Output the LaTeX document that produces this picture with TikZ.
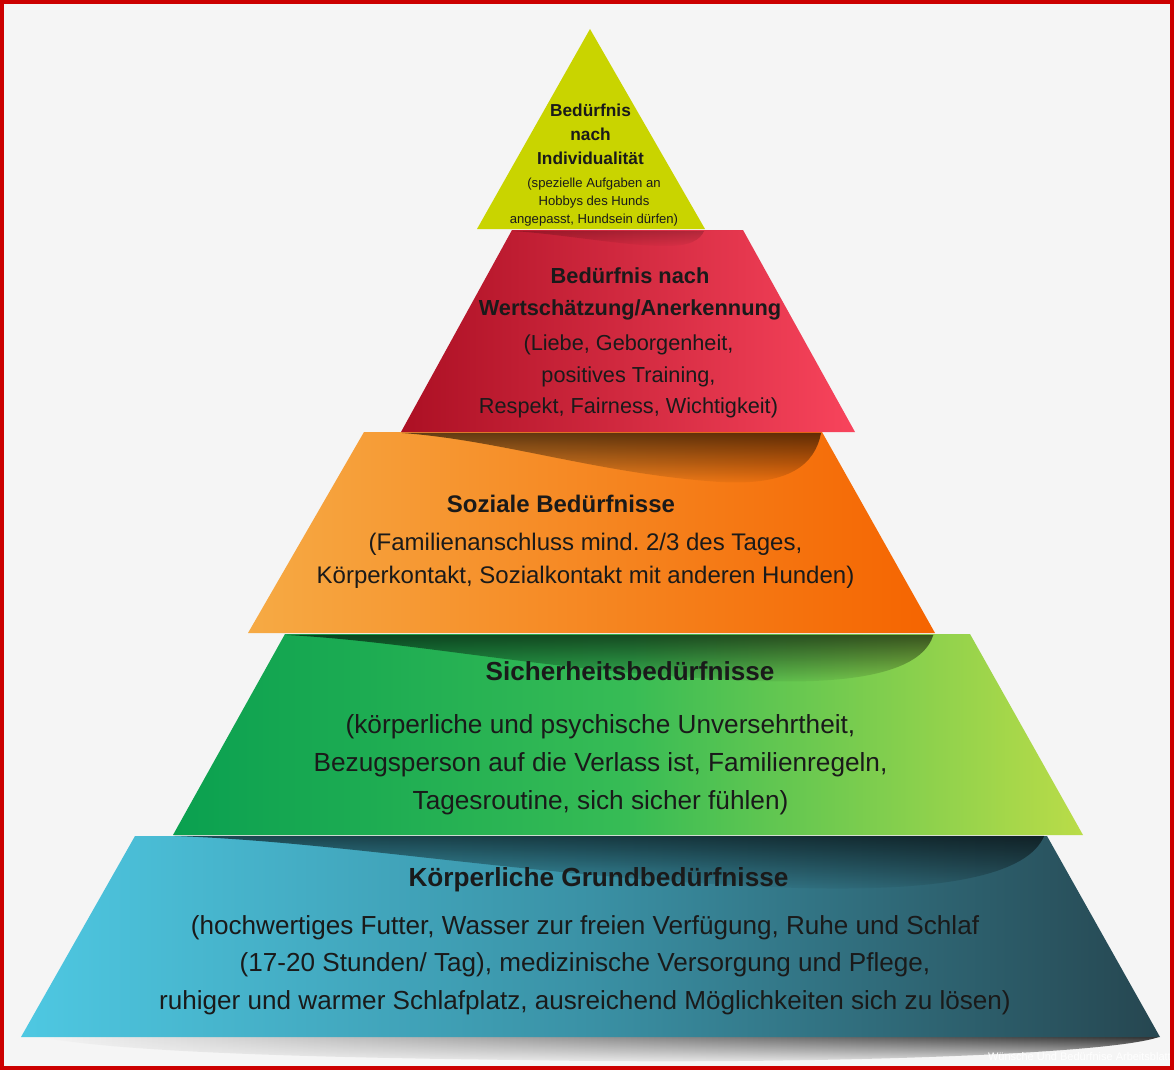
\documentclass[tikz,border=0pt]{standalone}
\usepackage{fontspec}
\setmainfont{Liberation Sans}
\usetikzlibrary{fadings}
\frenchspacing

\definecolor{bggrey}{RGB}{245,245,245}
\definecolor{framered}{RGB}{204,0,0}
\definecolor{ink}{RGB}{26,26,26}
\definecolor{tipyellow}{RGB}{201,212,0}
\definecolor{redL}{RGB}{172,16,36}
\definecolor{redR}{RGB}{248,68,92}
\definecolor{orangeL}{RGB}{246,170,68}
\definecolor{orangeR}{RGB}{245,100,0}
\definecolor{greenL}{RGB}{10,160,80}
\definecolor{greenM}{RGB}{55,188,85}
\definecolor{greenR}{RGB}{186,220,72}
\definecolor{blueL}{RGB}{78,200,226}
\definecolor{blueM}{RGB}{58,145,165}
\definecolor{blueR}{RGB}{38,70,80}

\tikzfading[name=dropfade, top color=transparent!0, middle color=transparent!80,
    bottom color=transparent!100]

\begin{document}
\begin{tikzpicture}[x=1pt,y=-1pt,
    head/.style 2 args={anchor=north,align=center,inner sep=0pt,text=ink,
        font=\bfseries\fontsize{#1}{#2}\selectfont},
    note/.style 2 args={anchor=north,align=center,inner sep=0pt,text=ink,
        font=\fontsize{#1}{#2}\selectfont},
    shadow/.style={fill=black,opacity=#1,path fading=dropfade}]
    \useasboundingbox (0,0) rectangle (1174,1070);
    \fill[bggrey] (0,0) rectangle (1174,1070);

    % ground shadow
    \shade[left color=bggrey,right color=black!80,path fading=south]
        (40,1037) -- (1160,1037) .. controls (1110,1055) and (800,1065) .. (520,1060)
        .. controls (260,1057) and (110,1050) .. (40,1037) -- cycle;

    % tiers, bottom first
    \shade[left color=blueL,right color=blueR,middle color=blueM]
        (135,836) -- (1047,836) -- (1160,1037) -- (21,1037) -- cycle;
    \fill[shadow=.6] (175,836) .. controls (350,842) and (550,880) .. (800,888)
        .. controls (950,892) and (1030,874) .. (1046,836) -- cycle;
    \shade[left color=greenL,right color=greenR,middle color=greenM]
        (285,634) -- (970,634) -- (1083,835) -- (173,835) -- cycle;
    \fill[shadow=.6] (287,635) .. controls (420,642) and (560,674) .. (760,681)
        .. controls (880,685) and (925,664) .. (934,635) -- cycle;
    \shade[left color=orangeL,right color=orangeR]
        (364,432) -- (822,432) -- (935,633) -- (248,633) -- cycle;
    \fill[shadow=.6] (402,433) .. controls (500,440) and (600,474) .. (720,482)
        .. controls (790,486) and (815,464) .. (821,433) -- cycle;
    \shade[left color=redL,right color=redR]
        (512,230) -- (743,230) -- (855,432) -- (401,432) -- cycle;
    \fill[shadow=.2] (513,231) .. controls (560,234) and (620,245) .. (660,246)
        .. controls (690,247) and (700,240) .. (704,231) -- cycle;
    \fill[tipyellow] (590,29) -- (705,229) -- (477,229) -- cycle;

    % texts
    \node[head={17.3}{24}] at (590.5,103.6) (tipHead) {Bedürfnis\\nach\\Individualität};
    \node[note={13.1}{18}] at (594,178.2) (tipNote) {(spezielle Aufgaben an\\Hobbys des Hunds\\angepasst, Hundsein dürfen)};
    \node[head={21.8}{32}] at (630,267.9) (redHead) {Bedürfnis nach\\Wertschätzung/Anerkennung};
    \node[note={21.7}{31.5}] at (628.5,335) (redNote) {(Liebe, Geborgenheit,\\positives Training,\\Respekt, Fairness, Wichtigkeit)};
    \node[head={24}{33}] at (561,495.1) (orangeHead) {Soziale Bedürfnisse};
    \node[note={24}{33}] at (585.5,533.1) (orangeNote) {(Familienanschluss mind. 2/3 des Tages,\\Körperkontakt, Sozialkontakt mit anderen Hunden)};
    \node[head={26.1}{38}] at (630,661.3) (greenHead) {Sicherheitsbedürfnisse};
    \node[note={26.2}{38}] at (600.5,714.3) (greenNote) {(körperliche und psychische Unversehrtheit,\\Bezugsperson auf die Verlass ist, Familienregeln,\\Tagesroutine, sich sicher fühlen)};
    \node[head={26.2}{38}] at (598.5,867.3) (blueHead) {Körperliche Grundbedürfnisse};
    \node[note={26.1}{37.5}] at (585,915.3) (blueNote) {(hochwertiges Futter, Wasser zur freien Verfügung, Ruhe und Schlaf\\(17-20 Stunden/ Tag), medizinische Versorgung und Pflege,\\ruhiger und warmer Schlafplatz, ausreichend Möglichkeiten sich zu lösen)};

    \node[anchor=east,inner sep=0pt,text=white,font=\fontsize{11}{11}\selectfont] at (1171,1057) (mark) {Wünsche Und Bedürfnise Arbeitsblatt};

    \draw[framered,line width=4pt] (2,2) rectangle (1172,1068);
\end{tikzpicture}
\end{document}
